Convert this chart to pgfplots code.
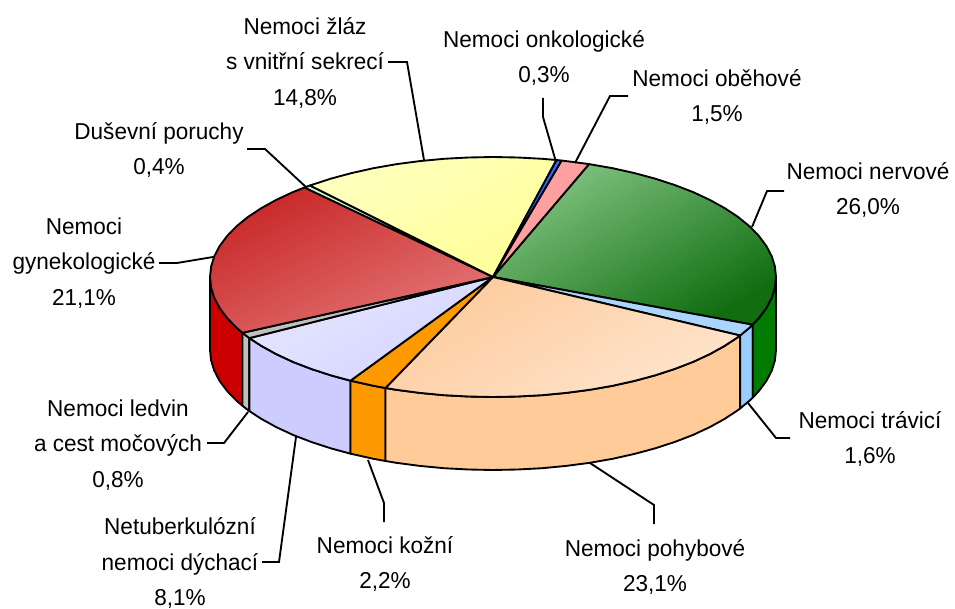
\documentclass[border=0pt]{standalone}
\usepackage{fontspec}
\setmainfont{Liberation Sans}
\usepackage{pgfplots}
\pgfplotsset{compat=1.18}

\definecolor{sRed}{HTML}{CC0000}
\definecolor{sGrey}{HTML}{C0C0C0}
\definecolor{sLav}{HTML}{CCCCFF}
\definecolor{sOrange}{HTML}{FF9900}
\definecolor{sPeach}{HTML}{FFCC99}
\definecolor{sBlue}{HTML}{99CCFF}
\definecolor{sGreen}{HTML}{007A00}

\tikzset{
  slice/.style={draw=black,line width=1.4pt,line join=round},
  leader/.style={draw=black,line width=1.4pt,line join=miter},
  lbl/.style={font=\fontsize{17.25}{26.5}\selectfont,align=center,inner sep=0pt,anchor=center,xscale=0.98,transform shape},
}

\begin{document}
\begin{tikzpicture}
\begin{axis}[
    hide axis,
    scale only axis,
    width=716.25pt,
    height=456.75pt,
    xmin=0, xmax=955,
    ymin=0, ymax=609,
    y dir=reverse,
    clip=false,
]
% keep the page as large as the axis
\path (axis cs:0,0) rectangle (axis cs:955,609);
% side of the pie
\addplot[slice,fill=sRed] coordinates {(210,277)(211.1,287.5)(214.3,297.8)(219.7,308.1)(227.1,318)(236.5,327.7)(242.5,332.8)(242.5,405.8)(236.5,400.7)(227.1,391)(219.7,381.1)(214.3,370.8)(211.1,360.5)(210,350)(210,277)};
\addplot[slice,fill=sGrey] coordinates {(242.5,332.8)(247.9,337)(249.4,338.1)(249.4,411.1)(247.9,410)(242.5,405.8)(242.5,332.8)};
\addplot[slice,fill=sLav] coordinates {(249.4,338.1)(261.2,345.8)(276.2,354.1)(292.9,361.9)(311.1,368.9)(330.7,375.3)(350.5,380.7)(350.5,453.7)(330.7,448.3)(311.1,441.9)(292.9,434.9)(276.2,427.1)(261.2,418.8)(249.4,411.1)(249.4,338.1)};
\addplot[slice,fill=sOrange] coordinates {(350.5,380.7)(351.5,380.9)(373.4,385.8)(385.5,388)(385.5,461)(373.4,458.8)(351.5,453.9)(350.5,453.7)(350.5,380.7)};
\addplot[slice,fill=sPeach] coordinates {(385.5,388)(396.2,389.8)(419.8,392.9)(443.9,395.2)(468.3,396.5)(493,397)(517.7,396.5)(542.1,395.2)(566.2,392.9)(589.8,389.8)(612.6,385.8)(634.5,380.9)(655.3,375.3)(674.9,368.9)(693.1,361.9)(709.8,354.1)(724.8,345.8)(738.1,337)(740.1,335.5)(740.1,408.5)(738.1,410)(724.8,418.8)(709.8,427.1)(693.1,434.9)(674.9,441.9)(655.3,448.3)(634.5,453.9)(612.6,458.8)(589.8,462.8)(566.2,465.9)(542.1,468.2)(517.7,469.5)(493,470)(468.3,469.5)(443.9,468.2)(419.8,465.9)(396.2,462.8)(385.5,461)(385.5,388)};
\addplot[slice,fill=sBlue] coordinates {(740.1,335.5)(749.5,327.7)(752.7,324.7)(752.7,397.7)(749.5,400.7)(740.1,408.5)(740.1,335.5)};
\addplot[slice,fill=sGreen] coordinates {(752.7,324.7)(758.9,318)(766.3,308.1)(771.7,297.8)(774.9,287.5)(776,277)(776,350)(774.9,360.5)(771.7,370.8)(766.3,381.1)(758.9,391)(752.7,397.7)(752.7,324.7)};

% top of the pie
\addplot[slice,top color={rgb,255:red,128;green,194;blue,128},bottom color={rgb,255:red,16;green,110;blue,16},shading angle=30] coordinates {(493,277)(589,164.1)(612.6,168.2)(634.5,173.1)(655.3,178.7)(674.9,185.1)(693.1,192.1)(709.8,199.9)(724.8,208.2)(738.1,217)(749.5,226.3)(758.9,236)(766.3,245.9)(771.7,256.2)(774.9,266.5)(776,277)(774.9,287.5)(771.7,297.8)(766.3,308.1)(758.9,318)(752.7,324.7)(493,277)};
\addplot[slice,fill={rgb,255:red,170;green,213;blue,255}] coordinates {(493,277)(752.7,324.7)(749.5,327.7)(740.1,335.5)(493,277)};
\addplot[slice,top color={rgb,255:red,253;green,203;blue,156},bottom color={rgb,255:red,255;green,228;blue,205},shading angle=30] coordinates {(493,277)(740.1,335.5)(738.1,337)(724.8,345.8)(709.8,354.1)(693.1,361.9)(674.9,368.9)(655.3,375.3)(634.5,380.9)(612.6,385.8)(589.8,389.8)(566.2,392.9)(542.1,395.2)(517.7,396.5)(493,397)(468.3,396.5)(443.9,395.2)(419.8,392.9)(396.2,389.8)(385.5,388)(493,277)};
\addplot[slice,fill=sOrange] coordinates {(493,277)(385.5,388)(373.4,385.8)(351.5,380.9)(350.5,380.7)(493,277)};
\addplot[slice,top color={rgb,255:red,230;green,230;blue,255},bottom color={rgb,255:red,212;green,212;blue,255},shading angle=30] coordinates {(493,277)(350.5,380.7)(330.7,375.3)(311.1,368.9)(292.9,361.9)(276.2,354.1)(261.2,345.8)(249.4,338.1)(493,277)};
\addplot[slice,fill=sGrey] coordinates {(493,277)(249.4,338.1)(247.9,337)(242.5,332.8)(493,277)};
\addplot[slice,top color={rgb,255:red,200;green,40;blue,40},bottom color={rgb,255:red,228;green,118;blue,118},shading angle=25] coordinates {(493,277)(242.5,332.8)(236.5,327.7)(227.1,318)(219.7,308.1)(214.3,297.8)(211.1,287.5)(210,277)(211.1,266.5)(214.3,256.2)(219.7,245.9)(227.1,236)(236.5,226.3)(247.9,217)(261.2,208.2)(276.2,199.9)(292.9,192.1)(304.5,187.5)(493,277)};
\addplot[slice,fill={rgb,255:red,204;green,255;blue,204}] coordinates {(493,277)(304.5,187.5)(309.9,185.5)(493,277)};
\addplot[slice,top color={rgb,255:red,255;green,255;blue,190},bottom color={rgb,255:red,255;green,255;blue,153},shading angle=30] coordinates {(493,277)(309.9,185.5)(311.1,185.1)(330.7,178.7)(351.5,173.1)(373.4,168.2)(396.2,164.2)(419.8,161.1)(443.9,158.8)(468.3,157.5)(493,157)(517.7,157.5)(542.1,158.8)(556.5,160)(493,277)};
\addplot[slice,fill={rgb,255:red,51;green,102;blue,255}] coordinates {(493,277)(556.5,160)(561.7,160.6)(493,277)};
\addplot[slice,fill={rgb,255:red,255;green,160;blue,160}] coordinates {(493,277)(561.7,160.6)(566.2,161.1)(589,164.1)(493,277)};

% leader lines
\addplot[leader] coordinates {(388,62)(407,62)(424,160)};
\addplot[leader] coordinates {(247,149)(265,149)(307,188)};
\addplot[leader] coordinates {(159,263)(177,263)(213,257)};
\addplot[leader] coordinates {(543,98)(543,117)(556,162)};
\addplot[leader] coordinates {(628,96)(610,96)(575,163)};
\addplot[leader] coordinates {(784,191)(767,191)(752,227)};
\addplot[leader] coordinates {(790,438)(776,438)(748,403)};
\addplot[leader] coordinates {(654,524)(654,505)(590,463)};
\addplot[leader] coordinates {(384,522)(384,503)(368,460)};
\addplot[leader] coordinates {(262,562)(279,562)(296,437)};
\addplot[leader] coordinates {(207,443)(224,443)(248,412)};

% labels
\node[lbl] at (axis cs:305,63) {Nemoci žláz\\s vnitřní sekrecí\\14,8\%};
\node[lbl] at (axis cs:544,58) {Nemoci onkologické\\0,3\%};
\node[lbl] at (axis cs:717,97) {Nemoci oběhové\\1,5\%};
\node[lbl] at (axis cs:868,190) {Nemoci nervové\\26,0\%};
\node[lbl] at (axis cs:870,439) {Nemoci trávicí\\1,6\%};
\node[lbl] at (axis cs:655,567) {Nemoci pohybové\\23,1\%};
\node[lbl] at (axis cs:385,564) {Nemoci kožní\\2,2\%};
\node[lbl] at (axis cs:180,563) {Netuberkulózní\\nemoci dýchací\\8,1\%};
\node[lbl] at (axis cs:118,445) {Nemoci ledvin\\a cest močových\\0,8\%};
\node[lbl] at (axis cs:84,263) {Nemoci\\gynekologické\\21,1\%};
\node[lbl] at (axis cs:159,150) {Duševní poruchy\\0,4\%};
\end{axis}
\end{tikzpicture}
\end{document}
